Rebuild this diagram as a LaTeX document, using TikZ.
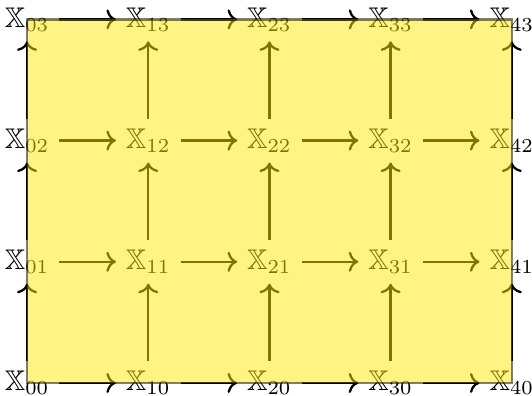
\documentclass[tikz,border=0pt]{standalone}
\usepackage{amsmath,amssymb}
\usepackage{tikz}
\usetikzlibrary{arrows.meta, positioning}
\definecolor{Shade}{RGB}{255,232,10}

\begin{document}
\begin{tikzpicture}[
          xnode/.style={inner sep=0.3333em},
          arr/.style={->, thick, color=black},
          cell/.style={draw=black, thick, fill=Shade, opacity=0.5}
        ]
          \useasboundingbox (-0.335,-0.16) rectangle (6.25,4.74);
          % grid of spaces
          \node[xnode] (x00) at (0,0)   {$\mathbb{X}_{00}$};
          \node[xnode] (x10) at (1.5,0) {$\mathbb{X}_{10}$};
          \node[xnode] (x20) at (3,0)   {$\mathbb{X}_{20}$};
          \node[xnode] (x30) at (4.5,0) {$\mathbb{X}_{30}$};
          \node[xnode] (x40) at (6,0)   {$\mathbb{X}_{40}$};
          \node[xnode] (x01) at (0,1.5)   {$\mathbb{X}_{01}$};
          \node[xnode] (x11) at (1.5,1.5) {$\mathbb{X}_{11}$};
          \node[xnode] (x21) at (3,1.5)   {$\mathbb{X}_{21}$};
          \node[xnode] (x31) at (4.5,1.5) {$\mathbb{X}_{31}$};
          \node[xnode] (x41) at (6,1.5)   {$\mathbb{X}_{41}$};
          \node[xnode] (x02) at (0,3)   {$\mathbb{X}_{02}$};
          \node[xnode] (x12) at (1.5,3) {$\mathbb{X}_{12}$};
          \node[xnode] (x22) at (3,3)   {$\mathbb{X}_{22}$};
          \node[xnode] (x32) at (4.5,3) {$\mathbb{X}_{32}$};
          \node[xnode] (x42) at (6,3)   {$\mathbb{X}_{42}$};
          \node[xnode] (x03) at (0,4.5)   {$\mathbb{X}_{03}$};
          \node[xnode] (x13) at (1.5,4.5) {$\mathbb{X}_{13}$};
          \node[xnode] (x23) at (3,4.5)   {$\mathbb{X}_{23}$};
          \node[xnode] (x33) at (4.5,4.5) {$\mathbb{X}_{33}$};
          \node[xnode] (x43) at (6,4.5)   {$\mathbb{X}_{43}$};
          % horizontal maps
          \draw[arr] (x00)--(x10); \draw[arr] (x10)--(x20); \draw[arr] (x20)--(x30); \draw[arr] (x30)--(x40);
          \draw[arr] (x01)--(x11); \draw[arr] (x11)--(x21); \draw[arr] (x21)--(x31); \draw[arr] (x31)--(x41);
          \draw[arr] (x02)--(x12); \draw[arr] (x12)--(x22); \draw[arr] (x22)--(x32); \draw[arr] (x32)--(x42);
          \draw[arr] (x03)--(x13); \draw[arr] (x13)--(x23); \draw[arr] (x23)--(x33); \draw[arr] (x33)--(x43);
          % vertical maps
          \draw[arr] (x00)--(x01); \draw[arr] (x01)--(x02); \draw[arr] (x02)--(x03);
          \draw[arr] (x10)--(x11); \draw[arr] (x11)--(x12); \draw[arr] (x12)--(x13);
          \draw[arr] (x20)--(x21); \draw[arr] (x21)--(x22); \draw[arr] (x22)--(x23);
          \draw[arr] (x30)--(x31); \draw[arr] (x31)--(x32); \draw[arr] (x32)--(x33);
          \draw[arr] (x40)--(x41); \draw[arr] (x41)--(x42); \draw[arr] (x42)--(x43);
          % shaded region
          \draw[cell] (x00.center) rectangle (x43.center);
        \end{tikzpicture}
\end{document}
